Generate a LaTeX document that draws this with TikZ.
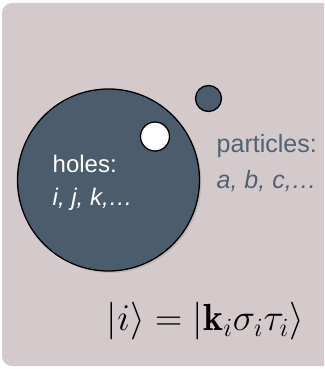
\documentclass[tikz,border=0pt]{standalone}
\definecolor{panelbg}{HTML}{D5CACB}
\definecolor{slate}{HTML}{4B5C6C}
\definecolor{slatetext}{HTML}{506273}
\usepackage{fontspec}
\newfontfamily\labelfont{Liberation Sans}
\usepackage{graphicx}
\usepackage{tikz}
\usetikzlibrary{shadows}
\tikzset{
  sphere/.style={
    circle, draw=black, line width=1.3pt,
    fill=slate, inner sep=0pt
  },
  hole/.style={
    circle, draw=black, line width=1.3pt,
    fill=white, inner sep=0pt
  },
  statelabel/.style={
    font=\labelfont\fontsize{24}{28}\selectfont,
    inner sep=0pt, anchor=base west
  },
}
\begin{document}
\begin{tikzpicture}[x=1pt, y=-1pt]

  % ── Frame ────────────────────────────────────────────────────────────────────
  \useasboundingbox (0,0) rectangle (324,369);
  \begin{scope}
    \clip (0,0) rectangle (324,369);
    \fill[panelbg, rounded corners=10pt] (2,3) rectangle (336,366);
  \end{scope}

  % ── Fermi sea and excitations ────────────────────────────────────────────────
  \node[sphere, minimum size=182pt,
        drop shadow={opacity=0.25, shadow xshift=2pt, shadow yshift=-2pt}]
    (sea) at (108.5,180) {};
  \node[hole, minimum size=29pt] (hole) at (155,136.5) {};
  \node[sphere, minimum size=26pt] (part) at (208.5,98.5) {};

  % ── Labels ───────────────────────────────────────────────────────────────────
  \node[statelabel, text=white] (holes) at (52.5,172.7) {holes:};
  \node[statelabel, text=white] (holeidx) at (52.5,205) {\itshape i, j, k,…};

  \node[statelabel, text=slatetext, font=\labelfont\fontsize{25}{29}\selectfont]
    (parts) at (216.5,152.7) {particles:};
  \node[statelabel, text=slatetext, font=\labelfont\fontsize{25}{29}\selectfont]
    (partidx) at (216.5,188.3) {\itshape a, b, c,…};

  % ── Single-particle state ────────────────────────────────────────────────────
  \node[font=\huge, inner sep=0pt, anchor=base]
    (ket) at (205.5,330.5)
    {\scalebox{1.82}{$|i\rangle = |\mathbf{k}_i\sigma_i\tau_i\rangle$}};

\end{tikzpicture}
\end{document}
